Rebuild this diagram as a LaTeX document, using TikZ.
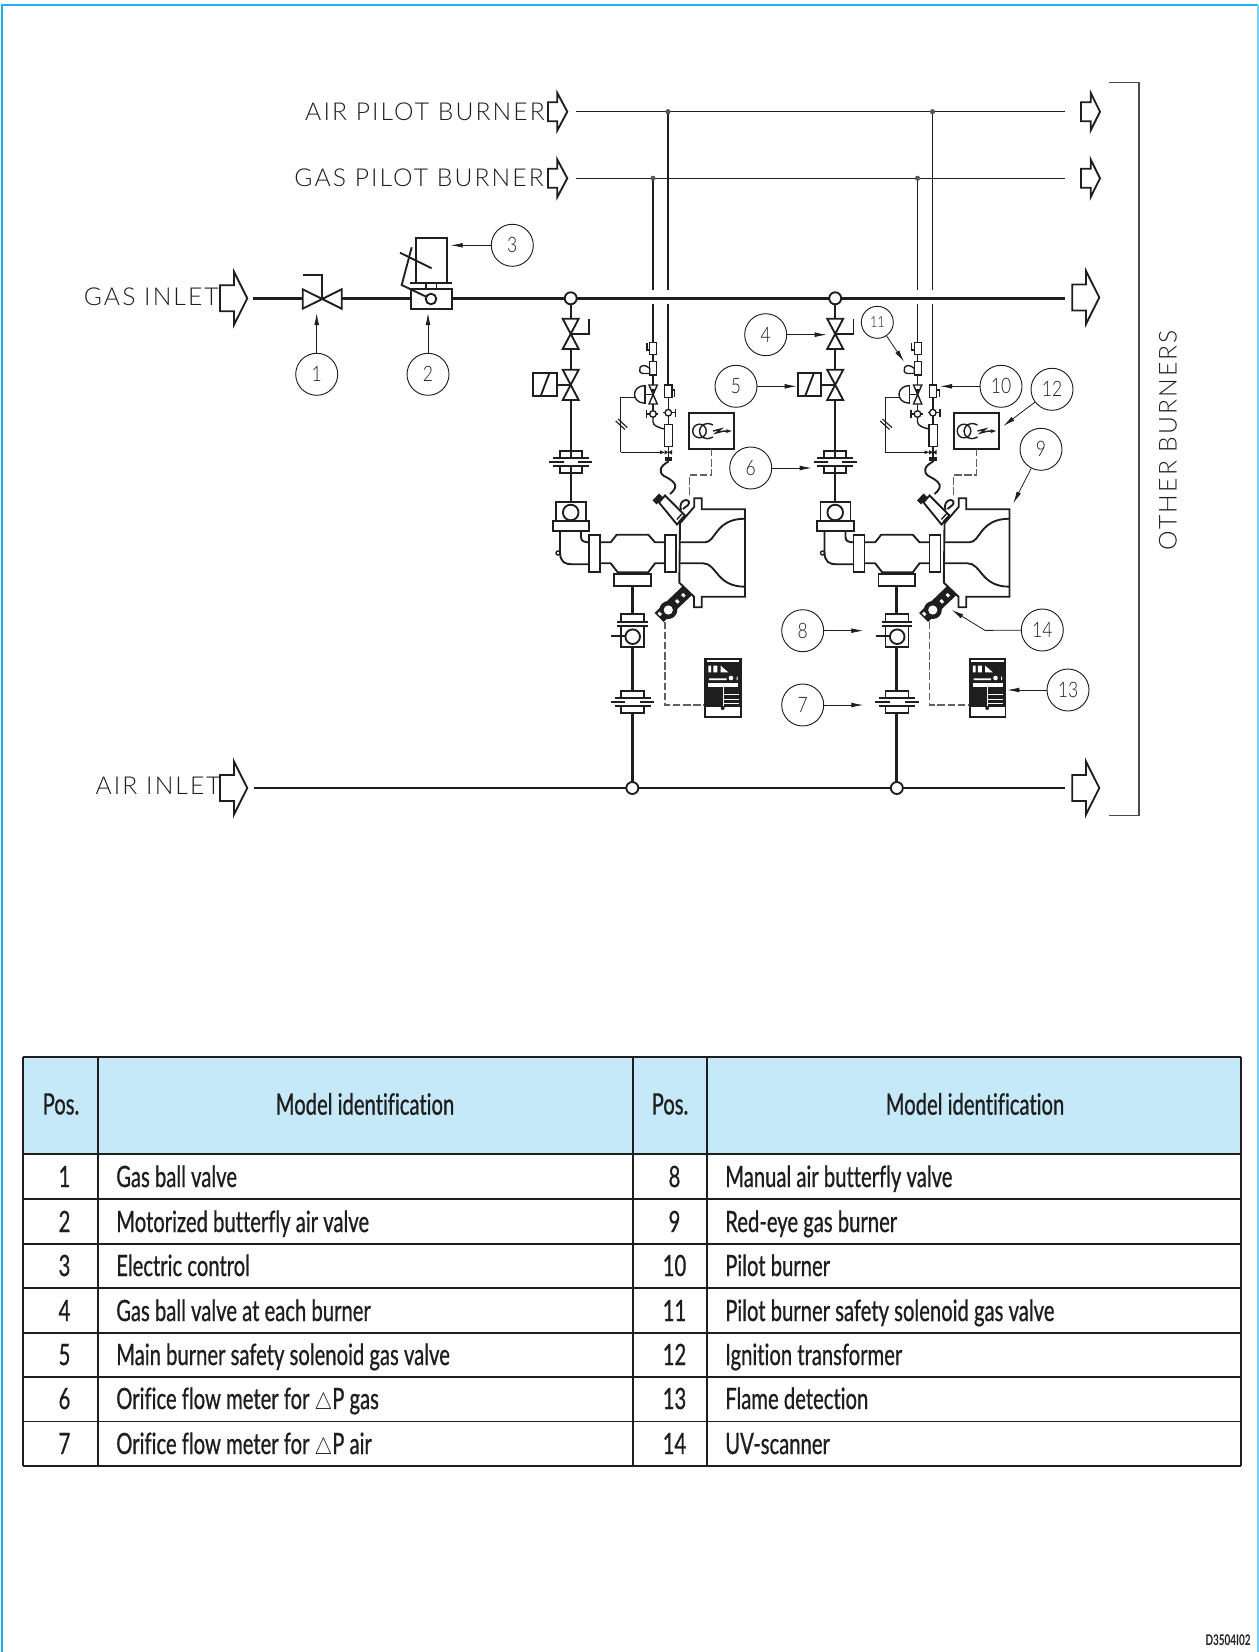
\documentclass[tikz,border=0pt]{standalone}
\usepackage{fontspec}
\setmainfont{Lato}
\newfontfamily\tabfont[FakeStretch=0.69,FakeBold=0.7,Ligatures=NoCommon]{Lato}
\newfontfamily\codefont[FakeStretch=0.68]{Lato Bold}
\newfontfamily\labfont[LetterSpace=8.5]{Lato Light}
\newfontfamily\numfont[FakeStretch=0.82]{Lato Light}
\usetikzlibrary{arrows.meta}
\definecolor{frameblue}{HTML}{1EB0EC}
\definecolor{headblue}{HTML}{C6E9FA}
\definecolor{ink}{HTML}{1E1E1E}
\newcommand{\deltasym}{\scalebox{0.72}[0.85]{\ensuremath{\triangle}}}
\tikzset{
  thinpipe/.style={draw=ink,line width=0.85pt},
  pipe/.style={draw=ink,line width=1.8pt},
  gaspipe/.style={draw=ink,line width=2pt},
  heavypipe/.style={draw=ink,line width=2.1pt},
  part/.style={draw=ink,line width=1.4pt,line join=miter},
  finepart/.style={draw=ink,line width=1.05pt},
  signal/.style={draw=ink!70,line width=0.8pt,dash pattern=on 5.6pt off 2pt},
  tag/.style={circle,draw=ink,line width=0.7pt,minimum size=31.5pt,inner sep=0pt,font=\numfont\fontsize{16}{16}\selectfont,text=ink},
  smalltag/.style={circle,draw=ink,line width=0.7pt,minimum size=24pt,inner sep=0pt,font=\numfont\fontsize{11.5}{11.5}\selectfont,text=ink},
  leader/.style={draw=ink,line width=0.6pt,-{Latex[length=9pt,width=3.6pt]}},
  lab/.style={font=\labfont\fontsize{18.5}{18.5}\selectfont,text=ink,inner sep=0pt},
  cell/.style={font=\tabfont\fontsize{22}{24}\selectfont,text=ink,inner sep=0pt},
  gridline/.style={draw=ink,line width=0.8pt},
  gridheavy/.style={draw=ink,line width=1.5pt},
}
% tail x, head back x, tip x, centre y, half shaft, half head
\newcommand{\flowsym}[6]{\draw[part,line join=miter] (#1,#4-#5) -- (#2,#4-#5) -- (#2,#4-#6) -- (#3,#4) -- (#2,#4+#6) -- (#2,#4+#5) -- (#1,#4+#5) -- cycle;}
% vertical double-triangle valve: cx, top, mid, bottom, half width
\newcommand{\vvalve}[5]{\draw[part,fill=white] (#1-#5,#2) -- (#1+#5,#2) -- (#1-#5,#4) -- (#1+#5,#4) -- cycle;}
\newcommand{\orifice}[4]{% cx, top, half rect width, half long width
  \draw[part] (#1-#3,#2+7) -- (#1-#3,#2) -- (#1+#3,#2) -- (#1+#3,#2+7);
  \draw[part] (#1-#3,#2+15) -- (#1-#3,#2+22) -- (#1+#3,#2+22) -- (#1+#3,#2+15);
  \draw[part] (#1-#4+3.5,#2+7) -- (#1+#4-3.5,#2+7);
  \draw[part] (#1-#4+3.5,#2+15) -- (#1+#4-3.5,#2+15);
  \draw[part] (#1-#4,#2+11) -- (#1-7,#2+11) (#1+7,#2+11) -- (#1+#4,#2+11);
}
\begin{document}
\begin{tikzpicture}[x=0.75pt,y=-0.75pt]
\useasboundingbox (0,0) rectangle (1259,1652);
% frame
\draw[frameblue,line width=1.5pt] (2,1652) -- (2,5) -- (1258,5);
\draw[frameblue!60,line width=1.2pt] (1258,5) -- (1258,1652);

% ---------- mains ----------
\draw[thinpipe] (576,111.7) -- (1065,111.7);
\draw[thinpipe] (576,178.3) -- (1065,178.3);
\draw[gaspipe] (253,298.3) -- (1065,298.3);
\draw[heavypipe] (254,788) -- (1065,788);
\flowsym{548}{557.3}{567.3}{111.7}{9.5}{18.7}
\flowsym{548}{557.3}{567.3}{178.3}{9.5}{18.7}
\flowsym{220}{234}{247.3}{298.3}{13}{26.5}
\flowsym{220}{234}{247.3}{788}{13}{26.5}
\flowsym{1081}{1090.7}{1100}{111.7}{9.5}{18.7}
\flowsym{1081}{1090.7}{1100}{178.3}{9.5}{18.7}
\flowsym{1072.3}{1086}{1099.3}{297.5}{13}{26.5}
\flowsym{1072.3}{1086}{1099.3}{788}{13}{26.5}

% bracket
\draw[draw=ink!80,line width=0.9pt] (1109,82.7) -- (1139,82.7) -- (1139,815.5) -- (1109,815.5);

% ---------- valve 1 ----------
\draw[part,fill=white] (302.7,289.3) -- (302.7,308.7) -- (341.7,289.3) -- (341.7,308.7) -- cycle;
\draw[part] (322.3,298.7) -- (322.3,275) -- (302.7,275);
% ---------- valve 2 + actuator ----------
\draw[part,fill=white] (410.7,289.3) rectangle (452,309);
\draw[part] (416,283.3) -- (416,237.7) -- (446.7,237.7) -- (446.7,283.3);
\draw[part] (410,283.3) -- (452.3,283.3);
\draw[finepart] (426,283.3) -- (426,289.3) (436.7,283.3) -- (436.7,289.3);
\draw[part] (431,299) -- (401.7,285) -- (411.7,247.3);
\draw[part] (400,252.7) -- (431.7,268.3);
\draw[part,fill=white] (431,299) circle[radius=5.3];

% ---------- burner groups ----------
\foreach \dx in {0,264.5}{
\begin{scope}[shift={(\dx,0)}]
  % pilot drops with hops over the gas main
  \draw[thinpipe] (653,178.3) -- (653,290) (653,304) -- (653,342);
  \draw[thinpipe] (668,111.7) -- (668,290) (668,304) -- (668,385);
  \fill[ink!75] (653,178.3) circle[radius=2.6] (668,111.7) circle[radius=2.6];
  % gas branch
  \draw[pipe] (570.7,304) -- (570.7,501);
  \draw[part,fill=white] (570.7,298.3) circle[radius=6];
  \vvalve{570.7}{318.7}{334}{349}{8}
  \draw[part] (570.7,334) -- (589,334) -- (589,318.7);
  \vvalve{570.7}{369.7}{385}{400}{8}
  \draw[part] (533.3,373.3) rectangle (556.7,396);
  \draw[part] (540.7,396) -- (549.3,373.3);
  \draw[part] (556.7,385) -- (570.7,385);
  \draw[white,line width=2.4pt] (570.7,458.3) -- (570.7,466.3);
  \orifice{570.7}{451.3}{11}{21.5}
  % air box on gas line
  \draw[part] (556,501.7) rectangle (586,520.7);
  \draw[part] (570.7,512.5) circle[radius=7.8];
  \draw[part] (552.7,520.7) rectangle (589.3,531);
  % elbow
  \draw[part] (560,531) -- (560,552) .. controls (560,562) and (565,564.3) .. (572,564.3) -- (589,564.3);
  \draw[part] (581,531) -- (581,537) .. controls (581,541) and (584,542.3) .. (589,542.3);
  \draw[finepart,fill=white] (558,553) circle[radius=2];
  \draw[part,fill=white] (589,535) rectangle (600,572);
  \draw[part] (600,542.3) -- (610.7,542.3) -- (616.7,534.7) -- (648.3,534.7) -- (655,542.3) -- (665,542.3);
  \draw[part] (600,563.3) -- (610.7,563.3) -- (617.7,572.3) -- (648.3,572.3) -- (655,563.3) -- (665,563.3);
  \draw[part,fill=white] (665,535) rectangle (676,572);
  % air branch
  \draw[part,fill=white] (614,574) rectangle (650.7,586);
  \draw[heavypipe] (632.3,586) -- (632.3,614);
  \draw[heavypipe] (632.3,647.3) -- (632.3,691);
  \draw[heavypipe] (632.3,713.3) -- (632.3,782);
  \draw[part] (621,621.7) -- (621,614) -- (644,614) -- (644,621.7);
  \draw[part] (617.3,621.7) -- (647.7,621.7) (617.3,625.7) -- (647.7,625.7);
  \draw[part] (621,625.7) rectangle (644,647.3);
  \draw[part] (632.7,636.7) circle[radius=7.3];
  \draw[part] (611,636.2) -- (625.4,636.2);
  \draw[part] (621,698.3) -- (621,690.7) -- (644,690.7) -- (644,698.3);
  \draw[part] (621,706) -- (621,713.3) -- (644,713.3) -- (644,706);
  \draw[part] (614.5,698.3) -- (650.5,698.3) (614.5,706) -- (650.5,706);
  \draw[part] (610.7,702.2) -- (625,702.2) (640,702.2) -- (654,702.2);
  \draw[part,fill=white] (632.3,788) circle[radius=6];
  % burner shell
  \draw[part] (680,523.3) -- (694.3,506.7) -- (694.3,498.3) -- (701.7,498.3) -- (701.7,509.3) -- (745,509.3) -- (745,596.7) -- (701.7,596.7) -- (701.7,607.3) -- (694,607.3) -- (694,596.7) -- (679.3,582.7) -- cycle;
  \draw[part] (679.3,542.3) -- (705,542.3) .. controls (716,542.3) and (715,518.7) .. (745,518.7);
  \draw[part] (679.3,563.3) -- (703,563.3) .. controls (717,563.3) and (716,586.7) .. (745,586.7);
  % pilot train
  \draw[finepart,fill=white] (649.7,342.3) rectangle (656.7,354.3);
  \draw[finepart] (647,343) -- (647,350) -- (649.7,350);
  \draw[finepart,fill=white] (649.7,361.7) rectangle (656.7,375);
  \draw[finepart,fill=white] (649.7,368.3) .. controls (640,360) and (636,373) .. (643,373.5) -- (649.7,373.5) -- cycle;
  \draw[finepart] (653,354.3) -- (653,361.7) (653,375) -- (653,385);
  \draw[finepart,fill=white] (649,385) -- (657.3,385) -- (649,404) -- (657.3,404) -- cycle;
  \fill[ink] (651,389) -- (655,389) -- (653,394) -- cycle;
  \draw[part] (645,385) -- (645,403.5);
  \draw[finepart] (645,385.5) .. controls (631,386) and (631,403) .. (645,403.2);
  \draw[finepart] (645,394.3) -- (653,394.3);
  \draw[thinpipe] (635,397.7) -- (620.7,397.7) -- (620.7,452.3);
  \draw[thinpipe,-{Latex[length=4pt,width=3pt]}] (620.7,452.3) -- (665.5,452.3);
  \draw[thinpipe] (615.7,421) -- (625,429.5) (618,419) -- (627.3,427.5);
  \draw[finepart] (653,404) -- (653,410);
  \draw[finepart,fill=white] (653,414) circle[radius=3.3];
  \draw[finepart] (646.5,410) -- (646.5,418) (646.5,414) -- (649.7,414) (656.3,414) -- (658,414);
  \draw[finepart] (653,417.3) -- (653,422) .. controls (653,426) and (660,428) .. (664.3,429);
  \draw[finepart,fill=white] (664.3,424.3) rectangle (672.7,446.7);
  \draw[finepart,fill=white] (664.7,385) rectangle (672,397.3);
  \draw[finepart] (672,390) -- (674.7,390) -- (674.7,397);
  \draw[finepart] (668.3,397.3) -- (668.3,409.4) (668.3,416) -- (668.3,424.3);
  \draw[finepart,fill=white] (668.3,412.7) circle[radius=3.3];
  \draw[finepart] (675.5,408.7) -- (675.5,416.7) (671.6,412.7) -- (675.5,412.7) (663,412.7) -- (665,412.7);
  \draw[finepart] (668.3,446.7) -- (668.3,462);
  \fill[ink] (664.5,450) -- (668.3,452.3) -- (672,450) -- (672,454.6) -- (668.3,452.3) -- (664.5,454.6) -- cycle;
  \fill[ink] (664.5,456.5) rectangle (672,460.5);
  \draw[part] (668.3,461.7) .. controls (660,466) and (658,472) .. (664,476) .. controls (672,480) and (677,484) .. (675,488) .. controls (674,491) and (672,492) .. (670,494);
  % pilot nozzle
  \draw[part,fill=white] (665,495.5) -- (659,502.5) -- (677,524.5) -- (685,515.5) -- cycle;
  \fill[ink] (659,493.5) -- (652.5,500.5) -- (656.5,504.5) -- (663,497.5) -- cycle;
  \draw[finepart] (679,521.5) -- (684,516) (676.8,519.5) -- (681.8,514);
  \draw[part] (681,510) .. controls (679,505) and (682,500) .. (686,500) .. controls (689,500) and (690,503) .. (688,505) -- (683,509);
  % ignition transformer
  \draw[part,fill=white] (689.3,412.7) rectangle (734.3,449);
  \draw[finepart] (699.5,431) circle[radius=6.8];
  \draw[finepart] (713,425) .. controls (704,420.5) and (699.5,427) .. (699.5,431) .. controls (699.5,436) and (704,441.5) .. (713,437);
  \draw[finepart,-{Latex[length=5pt,width=3pt]}] (713,431) -- (721,429) -- (716,433) -- (723,431.2) -- (733,431);
  \draw[signal] (711.7,449) -- (711.7,475) -- (689.3,475) -- (689.3,497);
  % UV scanner
  \fill[ink] (654.5,613) -- (663.5,622) -- (692,595) -- (683.3,585.5) -- cycle;
  \fill[ink] (668.3,610) circle[radius=9];
  \fill[white] (668.3,610) circle[radius=4.6];
  \fill[white] (657.5,613.7) -- (659.5,611.7) -- (662,614.2) -- (660,616.2) -- cycle;
  \fill[white] (675,601.2) -- (677,599.2) -- (679.7,601.7) -- (677.7,603.7) -- cycle;
  \fill[white] (681,595) -- (683,593) -- (685.7,595.5) -- (683.7,597.5) -- cycle;
  \draw[signal] (665,621.7) -- (665,705) -- (705,705);
  % flame detection unit
  \fill[ink] (704.3,657.7) rectangle (741.7,718.3);
  \fill[white] (706.7,660) rectangle (739.3,662);
  \fill[white] (708.3,665.7) rectangle (711,672.3) (713.3,665.7) rectangle (717.3,672.3);
  \fill[white] (720.7,665.7) -- (728.3,672.3) -- (720.7,672.3) -- cycle;
  \fill[white] (709,678.3) rectangle (726.7,680) (736.7,676.7) rectangle (737.7,680);
  \fill[white] (731,678) circle[radius=2.3];
  \fill[white] (708.3,683.3) rectangle (738.3,686.7);
  \draw[white,line width=0.5pt] (723,686.7) -- (723,706) (723,694) -- (738.5,694) (723,699) -- (738.5,699) (723,703.3) -- (738.5,703.3);
  \fill[white] (706,706.7) rectangle (740,716);
  \fill[ink] (722.7,708) circle[radius=2];
\end{scope}
}

% ---------- labels ----------
\node[lab,anchor=base east] (lab1) at (545,120) {AIR PILOT BURNER};
\node[lab,anchor=base east] (lab2) at (544,186.7) {GAS PILOT BURNER};
\node[lab,anchor=base east] (lab3) at (219,305) {GAS INLET};
\node[lab,anchor=base east] (lab4) at (221,794) {AIR INLET};
\node[lab,rotate=90] (lab5) at (1168,440) {OTHER BURNERS};

% ---------- callouts ----------
\node[tag] (n1) at (316.7,374.3) {1};
\node[tag] (n2) at (428,374.3) {2};
\node[tag] (n3) at (512.3,245.3) {3};
\node[tag] (n4) at (765.7,334.7) {4};
\node[tag] (n5) at (736,386.3) {5};
\node[tag] (n6) at (750.7,468) {6};
\node[tag] (n7) at (802.7,705) {7};
\node[tag] (n8) at (802.7,630.7) {8};
\node[tag] (n9) at (1041,449.3) {9};
\node[tag] (n10) at (1001,386.3) {10};
\node[smalltag] (n11) at (877.3,322.3) {11};
\node[tag] (n12) at (1052,389.3) {12};
\node[tag] (n13) at (1068,690) {13};
\node[tag] (n14) at (1042.3,630) {14};
\coordinate (t1) at (316.7,313);
\coordinate (t2) at (428,313);
\coordinate (t3) at (450.7,245.3);
\coordinate (t4) at (826.7,334.7);
\coordinate (t5) at (796.7,386.3);
\coordinate (t6) at (811.7,468);
\coordinate (t7) at (863.3,705);
\coordinate (t8) at (863.3,630.7);
\coordinate (t9) at (1013.3,503.3);
\coordinate (t10) at (940,386.3);
\coordinate (t11) at (904,361.7);
\coordinate (t12) at (1003.3,426);
\coordinate (t13) at (1007.3,690);
\coordinate (t14) at (951.7,610);
\coordinate (b14) at (985,630.4);
\foreach \i in {1,...,13}{\draw[leader] (n\i) -- (t\i);}
\draw[leader] (n14) -- (b14) -- (t14);

% ---------- table ----------
\fill[headblue] (23,1057) rectangle (1241,1154);
\foreach \yy in {1199,1244,1288,1333,1377,1421.5}{\draw[gridline] (23,\yy) -- (1241,\yy);}
\draw[gridheavy] (23,1057) -- (1241,1057);
\draw[gridheavy] (23,1154) -- (1241,1154);
\draw[gridheavy] (23,1466) -- (1241,1466);
\draw[gridline] (23,1057) -- (23,1466) (1241,1057) -- (1241,1466);
\draw[gridline] (98,1057) -- (98,1466) (707,1057) -- (707,1466);
\draw[gridheavy] (632.5,1057) -- (632.5,1466);
\node[cell,anchor=center] (h1) at (61,1104) {Pos.};
\node[cell,anchor=center] (h2) at (365,1104) {Model identification};
\node[cell,anchor=center] (h3) at (670,1104) {Pos.};
\node[cell,anchor=center] (h4) at (975,1104) {Model identification};
\foreach \k/\yy/\a/\b/\c/\d in {
 1/1187/1/Gas ball valve/8/Manual air butterfly valve,
 2/1232/2/Motorized butterfly air valve/9/Red-eye gas burner,
 3/1276/3/Electric control/10/Pilot burner,
 4/1321/4/Gas ball valve at each burner/11/Pilot burner safety solenoid gas valve,
 5/1365/5/Main burner safety solenoid gas valve/12/Ignition transformer,
 6/1409/6/Orifice flow meter for \deltasym P gas/13/Flame detection,
 7/1454/7/Orifice flow meter for \deltasym P air/14/UV-scanner}{
  \node[cell,anchor=base] (pa\k) at (64.5,\yy) {\a};
  \node[cell,anchor=base west] (ma\k) at (116,\yy) {\b};
  \node[cell,anchor=base] (pb\k) at (674.5,\yy) {\c};
  \node[cell,anchor=base west] (mb\k) at (725,\yy) {\d};
}
\node[inner sep=0pt,anchor=base east,text=ink,font=\codefont\fontsize{11}{11}\selectfont] (code) at (1251,1645) {D3504I02};
\end{tikzpicture}
\end{document}
